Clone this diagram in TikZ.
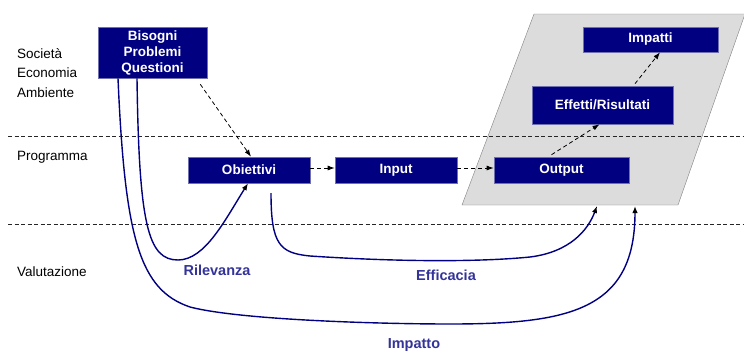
\documentclass[tikz,border=0pt]{standalone}
\usepackage{fontspec}
\setmainfont{Liberation Sans}
\usetikzlibrary{arrows.meta}
\definecolor{navyfill}{HTML}{000080}
\definecolor{navyline}{HTML}{7070B0}
\definecolor{labelblue}{HTML}{333399}
\definecolor{panelgray}{HTML}{DCDCDC}

\begin{document}
\begin{tikzpicture}[x = 1pt, y = -1pt,
  box/.style = {fill = navyfill, draw = navyline, line width = 0.6pt, text = white, inner sep = 0pt, align = center, font = \bfseries\fontsize{13.5}{16}\selectfont},
  side/.style = {anchor = west, inner sep = 0pt, align = left, font = \fontsize{13.5}{19.5}\selectfont},
  tag/.style = {text = labelblue, inner sep = 0pt, font = \bfseries\fontsize{14.5}{17}\selectfont},
  flow/.style = {line width = 0.8pt, dash pattern = on 4pt off 3pt, -{Latex[length = 7pt, width = 5pt]}},
  link/.style = {navyfill, line width = 1.4pt, -{Latex[length = 7pt, width = 5.5pt, color = black]}},
  sep/.style = {black!85, line width = 1pt, dash pattern = on 4pt off 2.5pt}]
\useasboundingbox (0,0) rectangle (744,351);

% grey panel and the three levels
\draw[fill = panelgray, draw = gray] (534,14) -- (745,14) -- (678,205) -- (462,205) -- cycle;
\draw[sep] (8,136) -- (744,136);
\draw[sep] (8,224) -- (744,224);

\node[side] (soc) at (17,73) {Società\\Economia\\Ambiente};
\node[side] (prog) at (17,157) {Programma};
\node[side] (val) at (17,272) {Valutazione};

% boxes
\node[box, minimum width = 109pt, minimum height = 51pt] (bisogni) at (152.5,52.5) {Bisogni\\Problemi\\Questioni};
\node[box, minimum width = 122pt, minimum height = 26pt] (obiettivi) at (249,170) {Obiettivi};
\node[box, minimum width = 122pt, minimum height = 26pt] (input) at (396,170) {Input};
\node[box, minimum width = 135pt, minimum height = 26pt] (output) at (561.5,170) {Output};
\node[box, minimum width = 141pt, minimum height = 38pt] (effetti) at (602.5,105) {Effetti/Risultati};
\node[box, minimum width = 135pt, minimum height = 25pt] (impatti) at (650.5,39.5) {Impatti};

\coordinate (effstart) at (271,193);
\coordinate (effend) at (597,206);
\coordinate (impend) at (635,206);

% logic chain
\draw[flow] ([shift = {(-7pt,-6pt)}]bisogni.south east) -- ([xshift = 2pt]obiettivi.north);
\draw[flow] ([yshift = 2pt]obiettivi.east) -- ([yshift = 2pt]input.west);
\draw[flow] ([yshift = 2pt]input.east) -- ([yshift = 2pt]output.west);
\draw[flow] ([shift = {(-10pt,2pt)}]output.north) -- ([xshift = -3pt]effetti.south);
\draw[flow] ([shift = {(32.5pt,2pt)}]effetti.north) -- ([xshift = 9.5pt]impatti.south);

% evaluation criteria
\draw[link] ([xshift = -15.5pt]bisogni.south) .. controls (139,225) and (148,260) .. (178,260)
  .. controls (205,260) and (225,220) .. ([xshift = -1pt]obiettivi.south);
\draw[link] (effstart) .. controls (271,245) and (280,253) .. (310,256)
  .. controls (400,262) and (480,262) .. (530,257)
  .. controls (570,252) and (588,230) .. (effend);
\draw[link] ([xshift = -34.5pt]bisogni.south) .. controls (125,240) and (140,290) .. (190,307)
  .. controls (240,320) and (380,324) .. (450,324)
  .. controls (570,324) and (635,310) .. (impend);

\node[tag] (ril) at (217,270) {Rilevanza};
\node[tag] (eff) at (446,275) {Efficacia};
\node[tag, anchor = base] (imp) at (414,348) {Impatto};
\end{tikzpicture}
\end{document}
